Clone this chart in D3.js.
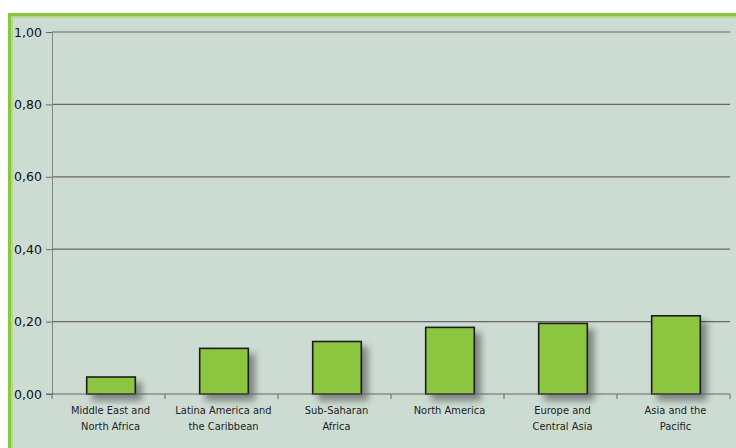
<!DOCTYPE html>
<html>
<head>
<meta charset="utf-8">
<script src="https://cdn.jsdelivr.net/npm/d3@7"></script>
<style>
  html, body { margin: 0; padding: 0; background: #ffffff; }
  svg { display: block; }
</style>
</head>
<body>
<svg id="chart" width="736" height="448"></svg>
<script>
// Regions and their values
const regions = [
  ["Middle East and", "North Africa"],
  ["Latina America and", "the Caribbean"],
  ["Sub-Saharan", "Africa"],
  ["North America"],
  ["Europe and", "Central Asia"],
  ["Asia and the", "Pacific"]
];
const values = [0.047, 0.126, 0.145, 0.184, 0.195, 0.216];
const yTicks = [0, 0.2, 0.4, 0.6, 0.8, 1.0];

const svg = d3.select("#chart");
const W = 736, H = 448;
const left = 52, right = 730;

// Panel with green frame
svg.append("rect").attr("x", 8).attr("y", 13).attr("width", W).attr("height", H)
  .attr("fill", "#8cc63f");
svg.append("rect").attr("x", 11).attr("y", 16).attr("width", W).attr("height", H)
  .attr("fill", "#b3d98a");
svg.append("rect").attr("x", 13).attr("y", 18).attr("width", W).attr("height", H)
  .attr("fill", "#cddcd2");

const defs = svg.append("defs");
const f = defs.append("filter").attr("id", "shadow")
  .attr("x", "-40%").attr("y", "-40%").attr("width", "200%").attr("height", "200%");
f.append("feGaussianBlur").attr("in", "SourceAlpha").attr("stdDeviation", 3.5);
f.append("feOffset").attr("dx", 6).attr("dy", 6).attr("result", "b");
f.append("feComponentTransfer").append("feFuncA").attr("type", "linear").attr("slope", 0.4);
const m = f.append("feMerge");
m.append("feMergeNode");
m.append("feMergeNode").attr("in", "SourceGraphic");

const x = d3.scaleBand().domain(d3.range(regions.length))
  .range([left, right]).paddingInner(0.57).paddingOuter(0.285);
const y = d3.scaleLinear().domain([0, 1]).range([394, 32]);

// Gridlines
svg.append("g").selectAll("line").data(yTicks.slice(1)).join("line")
  .attr("x1", left).attr("x2", right)
  .attr("y1", d => y(d)).attr("y2", d => y(d))
  .attr("stroke", "#6b6464").attr("stroke-width", 1.2);

// Y axis
const yAxis = svg.append("g").attr("transform", `translate(${left},0)`)
  .call(d3.axisLeft(y).tickValues(yTicks).tickSize(6).tickPadding(4)
    .tickFormat(d => d3.format(".2f")(d).replace(".", ",")));
yAxis.select(".domain").attr("stroke", "#8a8585");
yAxis.selectAll(".tick line").attr("stroke", "#6b6464");
yAxis.selectAll(".tick text")
  .attr("x", -38).attr("text-anchor", "start")
  .attr("font-family", "'DejaVu Sans', sans-serif")
  .attr("font-size", 12.5).attr("fill", "#111");

// Bars (drawn slightly right of band centre)
svg.append("g").attr("transform", "translate(2.5,0)")
  .selectAll("rect").data(values).join("rect")
  .attr("x", (d, i) => x(i)).attr("width", x.bandwidth())
  .attr("y", d => y(d)).attr("height", d => y(0) - y(d))
  .attr("fill", "#8cc63f").attr("stroke", "#1e1e1e").attr("stroke-width", 1.6)
  .attr("filter", "url(#shadow)");

// X axis
const step = x.step();
const xAxis = svg.append("g").attr("transform", `translate(0,${y(0)})`);
xAxis.append("line").attr("x1", left - 6).attr("x2", right)
  .attr("stroke", "#6b6464").attr("stroke-width", 1.2);
xAxis.selectAll("line.tk").data(d3.range(regions.length + 1)).join("line")
  .attr("class", "tk")
  .attr("x1", i => left + i * step).attr("x2", i => left + i * step)
  .attr("y1", 0).attr("y2", 5).attr("stroke", "#6b6464");

const labels = xAxis.selectAll("text").data(regions).join("text")
  .attr("text-anchor", "middle")
  .attr("font-family", "'DejaVu Sans Condensed', sans-serif")
  .attr("font-size", 11).attr("fill", "#222");
labels.selectAll("tspan").data((d, i) => d.map(t => ({ t, i }))).join("tspan")
  .attr("x", d => x(d.i) + x.bandwidth() / 2 + 2)
  .attr("y", (d, j) => 19.5 + j * 16)
  .text(d => d.t);
</script>
</body>
</html>
